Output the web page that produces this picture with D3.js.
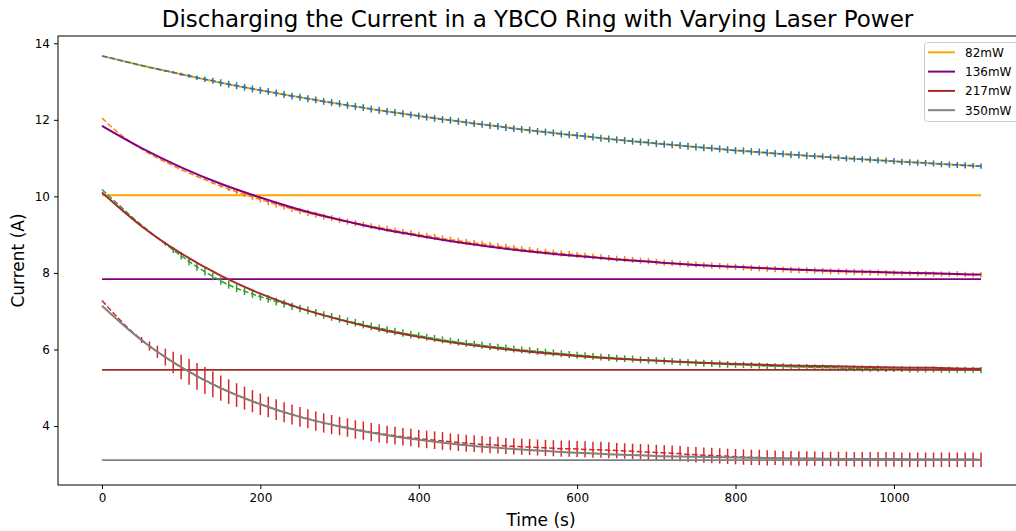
<!DOCTYPE html>
<html>
<head>
<meta charset="utf-8">
<script src="https://cdn.jsdelivr.net/npm/d3@7"></script>
<style>
  html, body { margin: 0; padding: 0; background: #ffffff; }
  svg { display: block; font-family: "DejaVu Sans", sans-serif; }
</style>
</head>
<body>
<svg id="chart" width="1016" height="531"></svg>
<script>
// Measurement times (s)
const time = [
  0,10,20,30,40,50,60,70,80,90,
  100,110,120,130,140,150,160,170,180,190,
  200,210,220,230,240,250,260,270,280,290,
  300,310,320,330,340,350,360,370,380,390,
  400,410,420,430,440,450,460,470,480,490,
  500,510,520,530,540,550,560,570,580,590,
  600,610,620,630,640,650,660,670,680,690,
  700,710,720,730,740,750,760,770,780,790,
  800,810,820,830,840,850,860,870,880,890,
  900,910,920,930,940,950,960,970,980,990,
  1000,1010,1020,1030,1040,1050,1060,1070,1080,1090,
  1100,1110
];

// Measured ring current (A) for each laser power
const current82 = [
  13.67,13.62,13.57,13.52,13.47,13.42,13.37,13.33,13.28,13.24,
  13.19,13.15,13.10,13.06,13.02,12.97,12.93,12.89,12.85,12.81,
  12.77,12.74,12.70,12.66,12.62,12.59,12.55,12.52,12.48,12.45,
  12.42,12.38,12.35,12.32,12.28,12.25,12.22,12.19,12.16,12.13,
  12.10,12.07,12.04,12.01,11.99,11.96,11.93,11.90,11.88,11.85,
  11.83,11.80,11.77,11.75,11.73,11.70,11.68,11.66,11.63,11.61,
  11.59,11.57,11.55,11.52,11.50,11.48,11.46,11.44,11.42,11.41,
  11.38,11.36,11.35,11.33,11.31,11.29,11.27,11.26,11.24,11.22,
  11.20,11.19,11.17,11.16,11.14,11.12,11.11,11.09,11.08,11.06,
  11.05,11.04,11.02,11.01,10.99,10.98,10.97,10.96,10.94,10.93,
  10.92,10.90,10.89,10.88,10.87,10.86,10.84,10.83,10.82,10.81,
  10.80,10.79
];
const current136 = [
  12.05,11.85,11.67,11.51,11.37,11.24,11.11,11.00,10.90,10.80,
  10.70,10.61,10.52,10.44,10.35,10.27,10.19,10.12,10.05,9.98,
  9.92,9.85,9.79,9.73,9.67,9.62,9.57,9.52,9.47,9.43,
  9.38,9.34,9.30,9.26,9.22,9.18,9.15,9.11,9.07,9.04,
  9.00,8.97,8.94,8.90,8.87,8.84,8.81,8.78,8.76,8.73,
  8.70,8.68,8.65,8.62,8.60,8.57,8.55,8.53,8.51,8.49,
  8.47,8.45,8.43,8.41,8.39,8.37,8.36,8.34,8.32,8.31,
  8.29,8.27,8.26,8.24,8.23,8.22,8.20,8.19,8.18,8.17,
  8.16,8.14,8.13,8.12,8.11,8.10,8.09,8.08,8.07,8.07,
  8.06,8.05,8.04,8.04,8.03,8.03,8.02,8.01,8.01,8.00,
  8.00,7.99,7.99,7.98,7.98,7.97,7.97,7.97,7.98,7.96,
  7.95,7.95
];
const current217 = [
  10.18,9.99,9.80,9.61,9.42,9.25,9.08,8.92,8.76,8.60,
  8.45,8.30,8.16,8.03,7.91,7.79,7.69,7.60,7.52,7.45,
  7.38,7.32,7.25,7.20,7.13,7.07,7.02,6.96,6.90,6.85,
  6.80,6.74,6.70,6.65,6.60,6.56,6.51,6.47,6.43,6.39,
  6.36,6.32,6.29,6.25,6.22,6.19,6.16,6.14,6.11,6.08,
  6.06,6.04,6.01,5.99,5.97,5.95,5.93,5.91,5.89,5.87,
  5.85,5.84,5.82,5.80,5.79,5.77,5.76,5.75,5.73,5.72,
  5.71,5.70,5.69,5.67,5.66,5.65,5.64,5.63,5.62,5.61,
  5.60,5.60,5.59,5.58,5.57,5.56,5.56,5.55,5.54,5.54,
  5.53,5.53,5.52,5.52,5.51,5.51,5.50,5.50,5.50,5.49,
  5.49,5.49,5.48,5.48,5.48,5.48,5.47,5.47,5.47,5.47,
  5.47,5.46
];
const current350 = [
  7.28,7.05,6.83,6.62,6.43,6.25,6.09,5.94,5.80,5.66,
  5.54,5.42,5.30,5.19,5.09,4.99,4.90,4.81,4.73,4.65,
  4.57,4.50,4.43,4.36,4.30,4.24,4.19,4.13,4.08,4.04,
  4.00,3.96,3.91,3.88,3.84,3.81,3.78,3.75,3.72,3.70,
  3.67,3.65,3.63,3.61,3.59,3.57,3.55,3.54,3.52,3.51,
  3.50,3.48,3.47,3.46,3.45,3.44,3.43,3.42,3.41,3.41,
  3.40,3.39,3.38,3.38,3.37,3.36,3.35,3.34,3.33,3.32,
  3.31,3.30,3.29,3.28,3.26,3.25,3.24,3.23,3.22,3.21,
  3.20,3.19,3.18,3.18,3.17,3.17,3.16,3.16,3.15,3.15,
  3.15,3.14,3.14,3.14,3.14,3.13,3.13,3.13,3.13,3.13,
  3.13,3.12,3.12,3.12,3.12,3.12,3.12,3.12,3.12,3.12,
  3.12,3.12
];

// Uncertainty of each reading (A)
const error82 = [
  0,0,0,0,0,0,0.01,0.02,0.02,0.03,
  0.04,0.05,0.06,0.07,0.08,0.09,0.09,0.09,0.09,0.09,
  0.09,0.09,0.09,0.09,0.09,0.09,0.09,0.09,0.09,0.09,
  0.09,0.09,0.09,0.09,0.09,0.09,0.09,0.09,0.09,0.09,
  0.09,0.09,0.09,0.09,0.09,0.09,0.09,0.09,0.09,0.09,
  0.09,0.09,0.09,0.09,0.09,0.09,0.09,0.09,0.09,0.09,
  0.09,0.09,0.09,0.09,0.09,0.09,0.09,0.09,0.09,0.09,
  0.09,0.09,0.09,0.09,0.09,0.09,0.09,0.09,0.09,0.09,
  0.09,0.09,0.09,0.09,0.09,0.09,0.09,0.09,0.09,0.09,
  0.08,0.08,0.08,0.08,0.08,0.08,0.08,0.08,0.08,0.08,
  0.08,0.08,0.08,0.08,0.08,0.08,0.08,0.08,0.08,0.08,
  0.07,0.07
];
const error136 = [
  0,0,0,0,0,0,0,0,0,0,
  0,0,0,0.02,0.03,0.04,0.05,0.06,0.07,0.08,
  0.08,0.08,0.08,0.08,0.08,0.08,0.08,0.08,0.08,0.08,
  0.08,0.08,0.08,0.08,0.08,0.08,0.08,0.08,0.08,0.08,
  0.08,0.08,0.08,0.08,0.08,0.08,0.08,0.08,0.08,0.08,
  0.08,0.08,0.08,0.08,0.08,0.08,0.08,0.08,0.08,0.08,
  0.08,0.08,0.08,0.08,0.08,0.08,0.08,0.08,0.08,0.08,
  0.08,0.08,0.08,0.08,0.08,0.08,0.08,0.08,0.08,0.08,
  0.08,0.08,0.08,0.08,0.08,0.08,0.08,0.08,0.08,0.08,
  0.08,0.08,0.08,0.08,0.08,0.08,0.08,0.08,0.08,0.08,
  0.07,0.07,0.07,0.07,0.07,0.07,0.07,0.07,0.07,0.07,
  0.07,0.07
];
const error217 = [
  0,0,0,0,0,0,0,0.02,0.05,0.08,
  0.10,0.10,0.10,0.10,0.10,0.10,0.10,0.10,0.10,0.10,
  0.10,0.10,0.10,0.10,0.10,0.10,0.10,0.10,0.10,0.10,
  0.10,0.10,0.10,0.10,0.10,0.10,0.10,0.10,0.10,0.10,
  0.09,0.09,0.09,0.09,0.09,0.09,0.09,0.09,0.09,0.09,
  0.09,0.09,0.09,0.09,0.09,0.09,0.09,0.09,0.09,0.09,
  0.09,0.09,0.09,0.09,0.09,0.09,0.09,0.09,0.09,0.09,
  0.09,0.09,0.09,0.09,0.09,0.09,0.09,0.09,0.09,0.09,
  0.08,0.08,0.08,0.08,0.08,0.08,0.08,0.08,0.08,0.08,
  0.08,0.08,0.08,0.08,0.08,0.08,0.08,0.08,0.08,0.08,
  0.08,0.08,0.08,0.08,0.08,0.08,0.08,0.08,0.08,0.08,
  0.08,0.08
];
const error350 = [
  0,0,0,0,0,0.08,0.12,0.16,0.22,0.28,
  0.32,0.34,0.35,0.35,0.34,0.33,0.32,0.31,0.30,0.29,
  0.28,0.27,0.27,0.26,0.26,0.26,0.25,0.25,0.25,0.25,
  0.24,0.24,0.24,0.24,0.24,0.24,0.23,0.23,0.23,0.23,
  0.23,0.23,0.23,0.23,0.22,0.22,0.22,0.22,0.22,0.22,
  0.22,0.21,0.21,0.21,0.21,0.21,0.21,0.21,0.21,0.21,
  0.21,0.21,0.21,0.21,0.21,0.20,0.20,0.20,0.20,0.20,
  0.20,0.20,0.20,0.20,0.20,0.20,0.20,0.20,0.20,0.20,
  0.20,0.20,0.20,0.20,0.20,0.19,0.19,0.19,0.19,0.19,
  0.19,0.19,0.19,0.19,0.19,0.19,0.19,0.19,0.19,0.19,
  0.19,0.19,0.19,0.19,0.19,0.19,0.19,0.19,0.19,0.19,
  0.19,0.19
];

// Exponential fits, sampled every 50 s
const fitTime = [0,50,100,150,200,250,300,350,400,450,500,550,600,650,700,750,800,850,900,950,1000,1050,1100,1110];
const fit82  = [13.67,13.42,13.19,12.97,12.77,12.59,12.41,12.25,12.10,11.96,11.83,11.70,11.59,11.48,11.38,11.29,11.20,11.12,11.05,10.98,10.92,10.86,10.80,10.79];
const fit136 = [11.84,11.26,10.76,10.33,9.97,9.65,9.39,9.16,8.97,8.80,8.66,8.54,8.44,8.35,8.28,8.21,8.16,8.11,8.07,8.04,8.01,7.99,7.96,7.96];
const fit217 = [10.10,9.22,8.51,7.93,7.46,7.08,6.78,6.53,6.33,6.16,6.03,5.92,5.83,5.76,5.71,5.66,5.62,5.59,5.57,5.55,5.53,5.52,5.50,5.50];
const fit350 = [7.14,6.24,5.54,4.99,4.57,4.24,3.99,3.79,3.64,3.52,3.43,3.36,3.30,3.26,3.22,3.20,3.18,3.16,3.15,3.14,3.14,3.13,3.13,3.12];

// Fitted steady-state currents (A)
const steadyState = [10.03, 7.84, 5.47, 3.11];

const powerLabels = ["82mW", "136mW", "217mW", "350mW"];
const xTicks = [0, 200, 400, 600, 800, 1000];
const yTicks = [4, 6, 8, 10, 12, 14];

const dataColors = ["#1f77b4", "#ff7f0e", "#2ca02c", "#d62728"];
const fitColors = ["orange", "purple", "brown", "gray"];

// the 82 mW fit is drawn underneath its data, the others on top
const series = [
  { values: current82,  errors: error82,  fit: fit82,  fitOnTop: false },
  { values: current136, errors: error136, fit: fit136, fitOnTop: true },
  { values: current217, errors: error217, fit: fit217, fitOnTop: true },
  { values: current350, errors: error350, fit: fit350, fitOnTop: true }
];

// Layout
const plot = { left: 58, right: 1025, top: 36, bottom: 485 };

const svg = d3.select("#chart");

const x = d3.scaleLinear().domain([-55.5, 1165.5]).range([plot.left, plot.right]);
const y = d3.scaleLinear().domain([2.46, 14.19]).range([plot.bottom, plot.top]);

svg.append("rect").attr("width", 1016).attr("height", 531).attr("fill", "#ffffff");

svg.append("defs").append("clipPath").attr("id", "plot-clip")
  .append("rect")
  .attr("x", plot.left).attr("y", plot.top)
  .attr("width", plot.right - plot.left).attr("height", plot.bottom - plot.top);

const area = svg.append("g").attr("clip-path", "url(#plot-clip)");

const dataLine = d3.line()
  .x((d, i) => x(time[i]))
  .y(d => y(d));

const fitLine = d3.line()
  .x((d, i) => x(fitTime[i]))
  .y(d => y(d))
  .curve(d3.curveMonotoneX);

function drawFit(g, s, k) {
  g.append("path")
    .datum(s.fit)
    .attr("d", fitLine)
    .attr("fill", "none")
    .attr("stroke", fitColors[k])
    .attr("stroke-width", 2);
}

function drawData(g, s, k) {
  g.append("path")
    .datum(s.values)
    .attr("d", dataLine)
    .attr("fill", "none")
    .attr("stroke", dataColors[k])
    .attr("stroke-width", 1.5)
    .attr("stroke-dasharray", "5.55,2.4");
  g.append("g").selectAll("line")
    .data(s.values.map((v, i) => ({ t: time[i], v, e: s.errors[i] })).filter(d => d.e > 0))
    .join("line")
    .attr("x1", d => x(d.t)).attr("x2", d => x(d.t))
    .attr("y1", d => y(d.v - d.e)).attr("y2", d => y(d.v + d.e))
    .attr("stroke", dataColors[k])
    .attr("stroke-width", 1.5);
}

series.forEach((s, k) => {
  const g = area.append("g");
  if (s.fitOnTop) {
    drawData(g, s, k);
    drawFit(g, s, k);
  } else {
    drawFit(g, s, k);
    drawData(g, s, k);
  }
  // steady-state level
  g.append("line")
    .attr("x1", x(time[0])).attr("x2", x(time[time.length - 1]))
    .attr("y1", y(steadyState[k])).attr("y2", y(steadyState[k]))
    .attr("stroke", fitColors[k])
    .attr("stroke-width", 1.8);
});

// Axes
const xAxis = d3.axisBottom(x).tickValues(xTicks).tickSize(4).tickPadding(4).tickFormat(d3.format("d"));
const yAxis = d3.axisLeft(y).tickValues(yTicks).tickSize(4).tickPadding(4).tickFormat(d3.format("d"));

const gx = svg.append("g").attr("transform", `translate(0,${plot.bottom})`).call(xAxis);
const gy = svg.append("g").attr("transform", `translate(${plot.left},0)`).call(yAxis);
[gx, gy].forEach(g => {
  g.select(".domain").remove();
  g.selectAll("line").attr("stroke", "#000").attr("stroke-width", 1);
  g.selectAll("text").attr("font-family", "DejaVu Sans").attr("font-size", 12).attr("fill", "#000");
});

// Frame
svg.append("rect")
  .attr("x", plot.left).attr("y", plot.top)
  .attr("width", plot.right - plot.left).attr("height", plot.bottom - plot.top)
  .attr("fill", "none").attr("stroke", "#000").attr("stroke-width", 1);

// Titles
svg.append("text")
  .attr("x", (plot.left + plot.right) / 2 - 4).attr("y", 27)
  .attr("text-anchor", "middle")
  .attr("font-size", 23)
  .attr("fill", "#000")
  .text("Discharging the Current in a YBCO Ring with Varying Laser Power");

svg.append("text")
  .attr("x", 541).attr("y", 526)
  .attr("text-anchor", "middle")
  .attr("font-size", 17)
  .attr("fill", "#000")
  .text("Time (s)");

svg.append("text")
  .attr("transform", `translate(24,${(plot.top + plot.bottom) / 2}) rotate(-90)`)
  .attr("text-anchor", "middle")
  .attr("font-size", 17)
  .attr("fill", "#000")
  .text("Current (A)");

// Legend
const legend = svg.append("g");
legend.append("rect")
  .attr("x", 924.5).attr("y", 42.5)
  .attr("width", 96).attr("height", 79)
  .attr("rx", 3)
  .attr("fill", "#ffffff").attr("fill-opacity", 0.8)
  .attr("stroke", "#cccccc").attr("stroke-width", 1);
powerLabels.forEach((label, k) => {
  const cy = 52.3 + k * 19.3;
  legend.append("line")
    .attr("x1", 928).attr("x2", 955)
    .attr("y1", cy).attr("y2", cy)
    .attr("stroke", fitColors[k]).attr("stroke-width", 2);
  legend.append("text")
    .attr("x", 965).attr("y", cy + 4.5)
    .attr("font-size", 12)
    .attr("fill", "#000")
    .text(label);
});
</script>
</body>
</html>
